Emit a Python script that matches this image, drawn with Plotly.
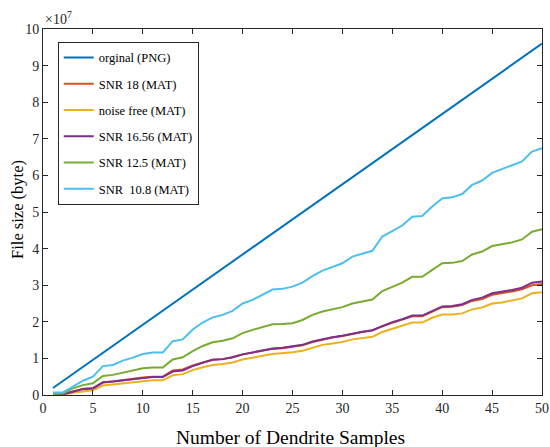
import plotly.graph_objects as go

samples = list(range(1, 51))

# values in units of 1e7 bytes
original_png = [0.192 * n for n in samples]

snr_10_8 = [0.07, 0.07, 0.23, 0.39, 0.50, 0.79, 0.82, 0.94, 1.02, 1.12,
            1.16, 1.16, 1.47, 1.52, 1.79, 1.98, 2.12, 2.19, 2.30, 2.50,
            2.60, 2.73, 2.88, 2.90, 2.96, 3.07, 3.25, 3.40, 3.49, 3.60,
            3.78, 3.87, 3.94, 4.33, 4.49, 4.63, 4.87, 4.89, 5.15, 5.37,
            5.40, 5.49, 5.74, 5.86, 6.07, 6.17, 6.27, 6.38, 6.65, 6.74]

snr_12_5 = [0.03, 0.04, 0.18, 0.27, 0.32, 0.52, 0.55, 0.61, 0.66, 0.73,
            0.75, 0.75, 0.97, 1.03, 1.20, 1.34, 1.44, 1.48, 1.55, 1.69,
            1.78, 1.85, 1.93, 1.94, 1.96, 2.05, 2.19, 2.28, 2.35, 2.40,
            2.50, 2.55, 2.61, 2.84, 2.96, 3.07, 3.23, 3.23, 3.42, 3.60,
            3.61, 3.66, 3.84, 3.92, 4.07, 4.12, 4.17, 4.25, 4.46, 4.53]

snr_16_56 = [0.00, 0.02, 0.09, 0.16, 0.18, 0.34, 0.37, 0.40, 0.43, 0.47,
             0.49, 0.49, 0.64, 0.67, 0.79, 0.88, 0.96, 0.98, 1.03, 1.11,
             1.17, 1.21, 1.27, 1.29, 1.32, 1.37, 1.46, 1.53, 1.58, 1.62,
             1.68, 1.73, 1.77, 1.89, 1.99, 2.07, 2.17, 2.17, 2.30, 2.42,
             2.43, 2.48, 2.60, 2.66, 2.78, 2.82, 2.87, 2.93, 3.07, 3.10]

snr_18 = [0.00, 0.02, 0.10, 0.17, 0.19, 0.35, 0.37, 0.41, 0.44, 0.48,
          0.50, 0.50, 0.67, 0.70, 0.81, 0.89, 0.96, 0.98, 1.03, 1.11,
          1.16, 1.20, 1.26, 1.28, 1.31, 1.36, 1.45, 1.52, 1.57, 1.61,
          1.67, 1.72, 1.76, 1.88, 1.97, 2.05, 2.15, 2.15, 2.28, 2.40,
          2.41, 2.46, 2.57, 2.62, 2.74, 2.78, 2.83, 2.89, 3.00, 3.03]

noise_free = [0.00, 0.00, 0.06, 0.10, 0.13, 0.26, 0.29, 0.33, 0.36, 0.39,
              0.40, 0.40, 0.54, 0.57, 0.68, 0.76, 0.82, 0.85, 0.89, 0.97,
              1.03, 1.07, 1.12, 1.14, 1.17, 1.21, 1.29, 1.37, 1.41, 1.45,
              1.52, 1.55, 1.59, 1.72, 1.80, 1.89, 1.98, 1.98, 2.11, 2.20,
              2.20, 2.23, 2.34, 2.39, 2.50, 2.53, 2.58, 2.64, 2.78, 2.81]

series = [
    ("orginal (PNG)", original_png, "#0072BD"),
    ("SNR 18 (MAT)", snr_18, "#D95319"),
    ("noise free (MAT)", noise_free, "#EDB120"),
    ("SNR 16.56 (MAT)", snr_16_56, "#7E2F8E"),
    ("SNR 12.5 (MAT)", snr_12_5, "#77AC30"),
    ("SNR  10.8 (MAT)", snr_10_8, "#4DBEEE"),
]

fig = go.Figure()
for i, (name, vals, color) in enumerate(series):
    fig.add_trace(go.Scatter(
        x=samples, y=vals, mode="lines", name=name,
        line=dict(color=color, width=2),
        legendgroup=f"g{i}",
    ))

font_family = "Liberation Serif"
axis_common = dict(
    showgrid=False, zeroline=False, showline=True, linecolor="#262626",
    linewidth=1, mirror="ticks", ticks="inside", ticklen=5,
    tickcolor="#262626", automargin=False,
    tickfont=dict(family=font_family, size=14, color="#262626"),
)

fig.update_layout(
    width=550, height=447,
    margin=dict(l=43, r=8, t=29, b=52, autoexpand=False),
    paper_bgcolor="white", plot_bgcolor="white",
    showlegend=True,
    legend=dict(
        x=0.0295, y=0.965, xanchor="left", yanchor="top",
        bgcolor="white", bordercolor="#262626", borderwidth=1,
        font=dict(family=font_family, size=12.5, color="black"),
        itemwidth=30, tracegroupgap=7,
    ),
    xaxis=dict(range=[0, 50], dtick=5, tick0=0, **axis_common),
    yaxis=dict(range=[0, 10], dtick=1, tick0=0, **axis_common),
    annotations=[
        dict(text="\u00d710<sup>7</sup>", xref="paper", yref="paper",
             x=0.0, y=1.0, xanchor="left", yanchor="bottom", showarrow=False,
             font=dict(family=font_family, size=14, color="#262626")),
        dict(text="Number of Dendrite Samples", xref="paper", yref="paper",
             x=0.496, y=-0.115, xanchor="center", yanchor="middle",
             showarrow=False,
             font=dict(family=font_family, size=19.5, color="black")),
        dict(text="File size (byte)", xref="paper", yref="paper",
             x=-0.0498, y=0.506, xanchor="center", yanchor="middle",
             textangle=-90, showarrow=False,
             font=dict(family=font_family, size=16.5, color="black")),
    ],
)

fig.write_html("out.html")
